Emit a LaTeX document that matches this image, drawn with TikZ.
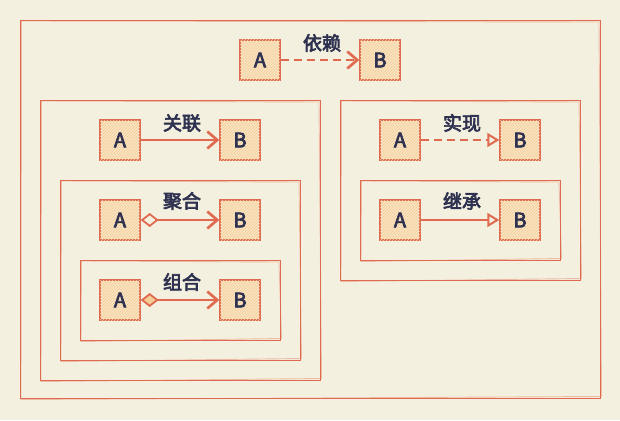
\documentclass[tikz,border=0pt]{standalone}
\usepackage{fontspec}
\newfontfamily\cjk{Noto Sans CJK SC}[FakeBold=3.5]
\usetikzlibrary{positioning, arrows.meta, patterns}
\definecolor{paper}{HTML}{F4F0DF}
\definecolor{stroke}{HTML}{E06A50}
\definecolor{boxfill}{HTML}{FAE5C4}
\definecolor{hatch}{HTML}{F2CB95}
\definecolor{ink}{HTML}{2E3250}

\begin{document}
\begin{tikzpicture}[x=1pt,y=-1pt,
		cls/.style={
			draw=stroke,
			line width=1.4pt,
			fill=boxfill,
			postaction={pattern=north east lines, pattern color=hatch},
			minimum size=40pt,
			inner sep=0pt,
			text=ink,
			font=\cjk\fontsize{20}{22}\selectfont},
		rel/.style={text=ink, font=\cjk\fontsize{19}{21}\selectfont},
		frame/.style={draw=stroke, line width=0.9pt},
		link/.style={draw=stroke, line width=2.8pt},
		barb/.style={-{Straight Barb[length=10pt, width=17pt, line width=2.6pt]}},
		tri/.style={-{Triangle[open, length=12pt, width=14pt, line width=2pt]}},
		dia/.style={{Diamond[#1, length=18pt, width=14pt, line width=1.8pt]}-{Straight Barb[length=10pt, width=17pt, line width=2.6pt]}}
		]
		\fill[paper] (0,0) rectangle (620,420);
		\useasboundingbox (0,0) rectangle (620,420);
		% containers, each one drawn twice for the sketch look
		\foreach \a/\b/\c/\d in {20/20/600/398, 40/100/320/380, 60/180/300/360, 80/260/280/340, 340/100/580/280, 360/180/560/260} {
			\draw[frame] (\a,\b) rectangle (\c,\d);
			\draw[frame, draw opacity=0.4] (\a+1.5,\b+1) -- (\c-1,\b+2) -- (\c+1.5,\d-1.5) -- (\a+1,\d+1.5) -- cycle;
		}
		% dependency
		\node[cls] (depA) at (260, 60) {A};
		\node[cls] (depB) at (380, 60) {B};
		\draw[link, barb, dash pattern=on 8pt off 5pt] (depA.east) to (depB.west);
		\node[rel] (depL) at (322, 43) {依赖};
		% association
		\node[cls] (asoA) at (120, 140) {A};
		\node[cls] (asoB) at (240, 140) {B};
		\draw[link, barb] (asoA.east) to (asoB.west);
		\node[rel] (asoL) at (182, 123) {关联};
		% aggregation
		\node[cls] (aggA) at (120, 220) {A};
		\node[cls] (aggB) at (240, 220) {B};
		\draw[link, dia={open}] (aggA.east) to (aggB.west);
		\node[rel] (aggL) at (182, 201) {聚合};
		% composition
		\node[cls] (comA) at (120, 300) {A};
		\node[cls] (comB) at (240, 300) {B};
		\draw[link, dia={fill=hatch}] (comA.east) to (comB.west);
		\node[rel] (comL) at (182, 282) {组合};
		% realization
		\node[cls] (reaA) at (400, 140) {A};
		\node[cls] (reaB) at (520, 140) {B};
		\draw[link, tri, dash pattern=on 8pt off 5pt] (reaA.east) to (reaB.west);
		\node[rel] (reaL) at (462, 123) {实现};
		% inheritance
		\node[cls] (inhA) at (400, 220) {A};
		\node[cls] (inhB) at (520, 220) {B};
		\draw[link, tri] (inhA.east) to (inhB.west);
		\node[rel] (inhL) at (462, 201) {继承};
\end{tikzpicture}
\end{document}
